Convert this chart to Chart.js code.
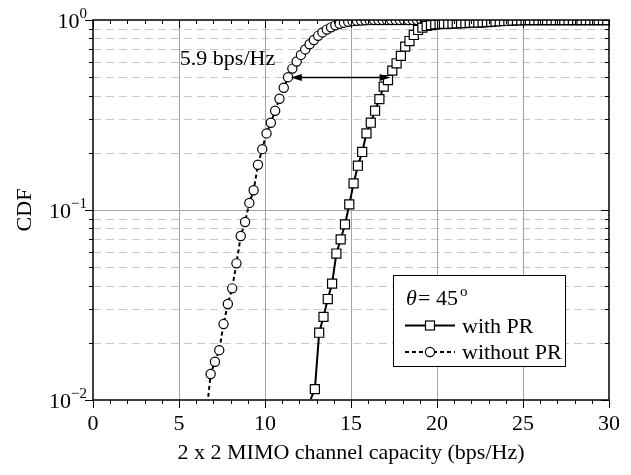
<!DOCTYPE html>
<html>
<head>
<meta charset="utf-8">
<script src="https://cdn.jsdelivr.net/npm/chart.js@4.4.1/dist/chart.umd.min.js"></script>
<style>
  body { margin: 0; background: #fff; }
</style>
</head>
<body>
<canvas id="cdf" width="631" height="475"></canvas>
<script>
// capacity (bps/Hz) and CDF; first point of each series is the line tail without a marker
const capWithout = [6.70,
  6.84, 7.09, 7.34, 7.59, 7.84, 8.09, 8.34, 8.59, 8.84, 9.09,
  9.34, 9.59, 9.84, 10.09, 10.34, 10.59, 10.84, 11.09, 11.34, 11.59,
  11.84, 12.09, 12.34, 12.59, 12.84, 13.09, 13.34, 13.59, 13.84, 14.09,
  14.34, 14.59, 14.84, 15.09, 15.34, 15.59, 15.84, 16.09, 16.34, 16.59,
  16.84, 17.09, 17.34, 17.59, 17.84, 18.09, 18.34, 18.59, 18.84, 19.09,
  19.34, 19.59, 19.84, 20.09, 20.34, 20.59, 20.84, 21.09, 21.34, 21.59,
  21.84, 22.09, 22.34, 22.59, 22.84, 23.09, 23.34, 23.59, 23.84, 24.09,
  24.34, 24.59, 24.84, 25.09, 25.34, 25.59, 25.84, 26.09, 26.34, 26.59,
  26.84, 27.09, 27.34, 27.59, 27.84, 28.09, 28.34, 28.59, 28.84, 29.09,
  29.34, 29.59, 29.84];
const cdfWithout = [0.0104,
  0.0137, 0.0159, 0.0183, 0.0251, 0.032, 0.0387, 0.0524, 0.073, 0.0865, 0.109,
  0.127, 0.173, 0.209, 0.253, 0.288, 0.333, 0.385, 0.44, 0.50, 0.555,
  0.605, 0.655, 0.70, 0.745, 0.785, 0.825, 0.86, 0.89, 0.915, 0.937,
  0.955, 0.968, 0.978, 0.986, 0.991, 0.994, 0.996, 0.998, 0.999, 1,
  1, 1, 1, 1, 1, 1, 1, 1, 1, 1,
  1, 1, 1, 1, 1, 1, 1, 1, 1, 1,
  1, 1, 1, 1, 1, 1, 1, 1, 1, 1,
  1, 1, 1, 1, 1, 1, 1, 1, 1, 1,
  1, 1, 1, 1, 1, 1, 1, 1, 1, 1,
  1, 1, 1];

const capWith = [12.66,
  12.90, 13.15, 13.40, 13.65, 13.90, 14.15, 14.40, 14.65, 14.90, 15.15,
  15.40, 15.65, 15.90, 16.15, 16.40, 16.65, 16.90, 17.15, 17.40, 17.65,
  17.90, 18.15, 18.40, 18.65, 18.90, 19.15, 19.40, 19.65, 19.90, 20.15,
  20.40, 20.65, 20.90, 21.15, 21.40, 21.65, 21.90, 22.15, 22.40, 22.65,
  22.90, 23.15, 23.40, 23.65, 23.90, 24.15, 24.40, 24.65, 24.90, 25.15,
  25.40, 25.65, 25.90, 26.15, 26.40, 26.65, 26.90, 27.15, 27.40, 27.65,
  27.90, 28.15, 28.40, 28.65, 28.90, 29.15, 29.40, 29.65, 29.90];
const cdfWith = [0.0101,
  0.0114, 0.0226, 0.0274, 0.034, 0.041, 0.059, 0.070, 0.084, 0.107, 0.138,
  0.171, 0.202, 0.253, 0.288, 0.333, 0.383, 0.446, 0.483, 0.541, 0.592,
  0.647, 0.724, 0.775, 0.834, 0.886, 0.911, 0.93, 0.94, 0.949, 0.952,
  0.954, 0.956, 0.958, 0.96, 0.962, 0.964, 0.966, 0.968, 0.97, 0.973,
  0.976, 0.979, 0.982, 0.985, 0.988, 0.991, 0.993, 0.995, 0.997, 0.998,
  0.999, 1, 1, 1, 1, 1, 1, 1, 1, 1,
  1, 1, 1, 1, 1, 1, 1, 1, 1];

const xTicks = [0, 5, 10, 15, 20, 25, 30];
const yDecades = [0.01, 0.1, 1];
const yExponents = ["\u22122", "\u22121", "0"];

// 5.9 bps/Hz gap annotation at CDF = 0.5
const gapText = "5.9 bps/Hz";
const gapFrom = 11.5;
const gapTo = 17.3;
const gapLevel = 0.5;

const serif = '"Liberation Serif", "Times New Roman", serif';

function seg(ctx, x1, y1, x2, y2) {
  ctx.beginPath();
  ctx.moveTo(x1, y1);
  ctx.lineTo(x2, y2);
  ctx.stroke();
}

function minorValues() {
  const out = [];
  [0.01, 0.1].forEach(d => {
    for (let m = 1; m <= 9; m++) out.push({ v: d * m, major: m === 1 });
  });
  out.push({ v: 1, major: true });
  return out;
}

const decor = {
  id: 'decor',
  beforeDatasetsDraw(chart) {
    const { ctx, chartArea: a, scales: { x, y } } = chart;
    ctx.save();
    ctx.lineWidth = 1;
    ctx.strokeStyle = '#c8c8c8';
    ctx.setLineDash([8, 5]);
    minorValues().forEach(t => {
      if (t.major) return;
      const py = Math.round(y.getPixelForValue(t.v)) + 0.5;
      seg(ctx, a.left, py, a.right, py);
    });
    ctx.setLineDash([]);
    ctx.strokeStyle = '#a4a4a4';
    xTicks.slice(1, -1).forEach(v => {
      const px = Math.round(x.getPixelForValue(v)) + 0.5;
      seg(ctx, px, a.top, px, a.bottom);
    });
    const p1 = Math.round(y.getPixelForValue(0.1)) + 0.5;
    seg(ctx, a.left, p1, a.right, p1);
    ctx.restore();
  },
  afterDatasetsDraw(chart) {
    const { ctx, chartArea: a, scales: { x, y } } = chart;
    ctx.save();
    ctx.strokeStyle = '#000';
    ctx.fillStyle = '#000';
    ctx.lineWidth = 1;

    // ticks: out on bottom/left, in on top/right
    for (let v = 0; v <= 30; v++) {
      const px = Math.round(x.getPixelForValue(v)) + 0.5;
      const len = v % 5 === 0 ? 8 : 4;
      seg(ctx, px, a.bottom, px, a.bottom + len);
      seg(ctx, px, a.top, px, a.top + len);
    }
    minorValues().forEach(t => {
      const py = Math.round(y.getPixelForValue(t.v)) + 0.5;
      const len = t.major ? 8 : 4;
      seg(ctx, a.left - len, py, a.left, py);
      seg(ctx, a.right - len, py, a.right, py);
    });

    ctx.lineWidth = 1.5;
    ctx.strokeRect(a.left, a.top, a.right - a.left, a.bottom - a.top);

    // axis labels
    ctx.font = '22px ' + serif;
    ctx.textAlign = 'center';
    ctx.textBaseline = 'alphabetic';
    xTicks.forEach(v => ctx.fillText(String(v), x.getPixelForValue(v), 430));
    ctx.fillText('2 x 2 MIMO channel capacity (bps/Hz)', (a.left + a.right) / 2, 459);

    ctx.textAlign = 'left';
    yDecades.forEach((d, i) => {
      const py = y.getPixelForValue(d);
      ctx.font = '15px ' + serif;
      const sw = ctx.measureText(yExponents[i]).width;
      ctx.font = '22px ' + serif;
      const bw = ctx.measureText('10').width;
      const right = 87;
      ctx.fillText('10', right - sw - bw, py + 7.5);
      ctx.font = '15px ' + serif;
      ctx.fillText(yExponents[i], right - sw, py - 2);
    });

    ctx.save();
    ctx.font = '22px ' + serif;
    ctx.translate(25, (a.top + a.bottom) / 2);
    ctx.rotate(-Math.PI / 2);
    ctx.textAlign = 'center';
    ctx.textBaseline = 'middle';
    ctx.fillText('CDF', 0, 0);
    ctx.restore();

    // gap annotation
    ctx.font = '22px ' + serif;
    ctx.textAlign = 'left';
    ctx.fillText(gapText, x.getPixelForValue(5.05), y.getPixelForValue(0.58));
    const ay = Math.round(y.getPixelForValue(gapLevel)) + 0.5;
    const ax1 = x.getPixelForValue(gapFrom);
    const ax2 = x.getPixelForValue(gapTo);
    ctx.lineWidth = 1.5;
    seg(ctx, ax1 + 6, ay, ax2 - 6, ay);
    ctx.beginPath();
    ctx.moveTo(ax1, ay); ctx.lineTo(ax1 + 11, ay - 3.5); ctx.lineTo(ax1 + 11, ay + 3.5); ctx.closePath();
    ctx.moveTo(ax2, ay); ctx.lineTo(ax2 - 11, ay - 3.5); ctx.lineTo(ax2 - 11, ay + 3.5); ctx.closePath();
    ctx.fill();

    // legend box
    const L = { x: 393, y: 275, w: 172, h: 91 };
    ctx.fillStyle = '#fff';
    ctx.fillRect(L.x, L.y, L.w, L.h);
    ctx.lineWidth = 1;
    ctx.strokeRect(L.x + 0.5, L.y + 0.5, L.w, L.h);
    ctx.fillStyle = '#000';
    ctx.font = 'italic 22px ' + serif;
    ctx.fillText('\u03b8', 406, 305);
    ctx.font = '22px ' + serif;
    ctx.fillText('= 45', 418, 305);
    ctx.font = '15px ' + serif;
    ctx.fillText('o', 460, 296);
    ctx.font = '22px ' + serif;
    ctx.fillText('with PR', 462, 332.5);
    ctx.fillText('without PR', 462, 359);

    ctx.lineWidth = 2;
    seg(ctx, 405, 325.5, 455, 325.5);
    ctx.setLineDash([4, 3]);
    seg(ctx, 405, 352, 455, 352);
    ctx.setLineDash([]);
    ctx.lineWidth = 1.2;
    ctx.fillStyle = '#fff';
    ctx.fillRect(425.5, 321, 9, 9);
    ctx.strokeRect(425.5, 321, 9, 9);
    ctx.beginPath();
    ctx.arc(430, 352, 4.6, 0, Math.PI * 2);
    ctx.fill();
    ctx.stroke();

    ctx.restore();
  }
};

const toPoints = (xs, ys) => xs.map((v, i) => ({ x: v, y: ys[i] }));

new Chart(document.getElementById('cdf'), {
  type: 'scatter',
  data: {
    datasets: [
      {
        label: 'with PR',
        data: toPoints(capWith, cdfWith),
        showLine: true,
        borderColor: '#000',
        borderWidth: 2,
        pointStyle: 'rect',
        pointRadius: c => (c.dataIndex === 0 ? 0 : 6.4),
        pointBackgroundColor: '#fff',
        pointBorderColor: '#000',
        pointBorderWidth: 1.2,
        clip: 0
      },
      {
        label: 'without PR',
        data: toPoints(capWithout, cdfWithout),
        showLine: true,
        borderColor: '#000',
        borderWidth: 2,
        borderDash: [4, 3],
        pointStyle: 'circle',
        pointRadius: c => (c.dataIndex === 0 ? 0 : 4.6),
        pointBackgroundColor: '#fff',
        pointBorderColor: '#000',
        pointBorderWidth: 1.2,
        clip: 0
      }
    ]
  },
  options: {
    responsive: false,
    animation: false,
    devicePixelRatio: 1,
    layout: { padding: { left: 93, right: 22, top: 20, bottom: 75 } },
    scales: {
      x: { type: 'linear', min: 0, max: 30, display: false },
      y: { type: 'logarithmic', min: 0.01, max: 1, display: false }
    },
    plugins: {
      legend: { display: false },
      tooltip: { enabled: false }
    }
  },
  plugins: [decor]
});
</script>
</body>
</html>
